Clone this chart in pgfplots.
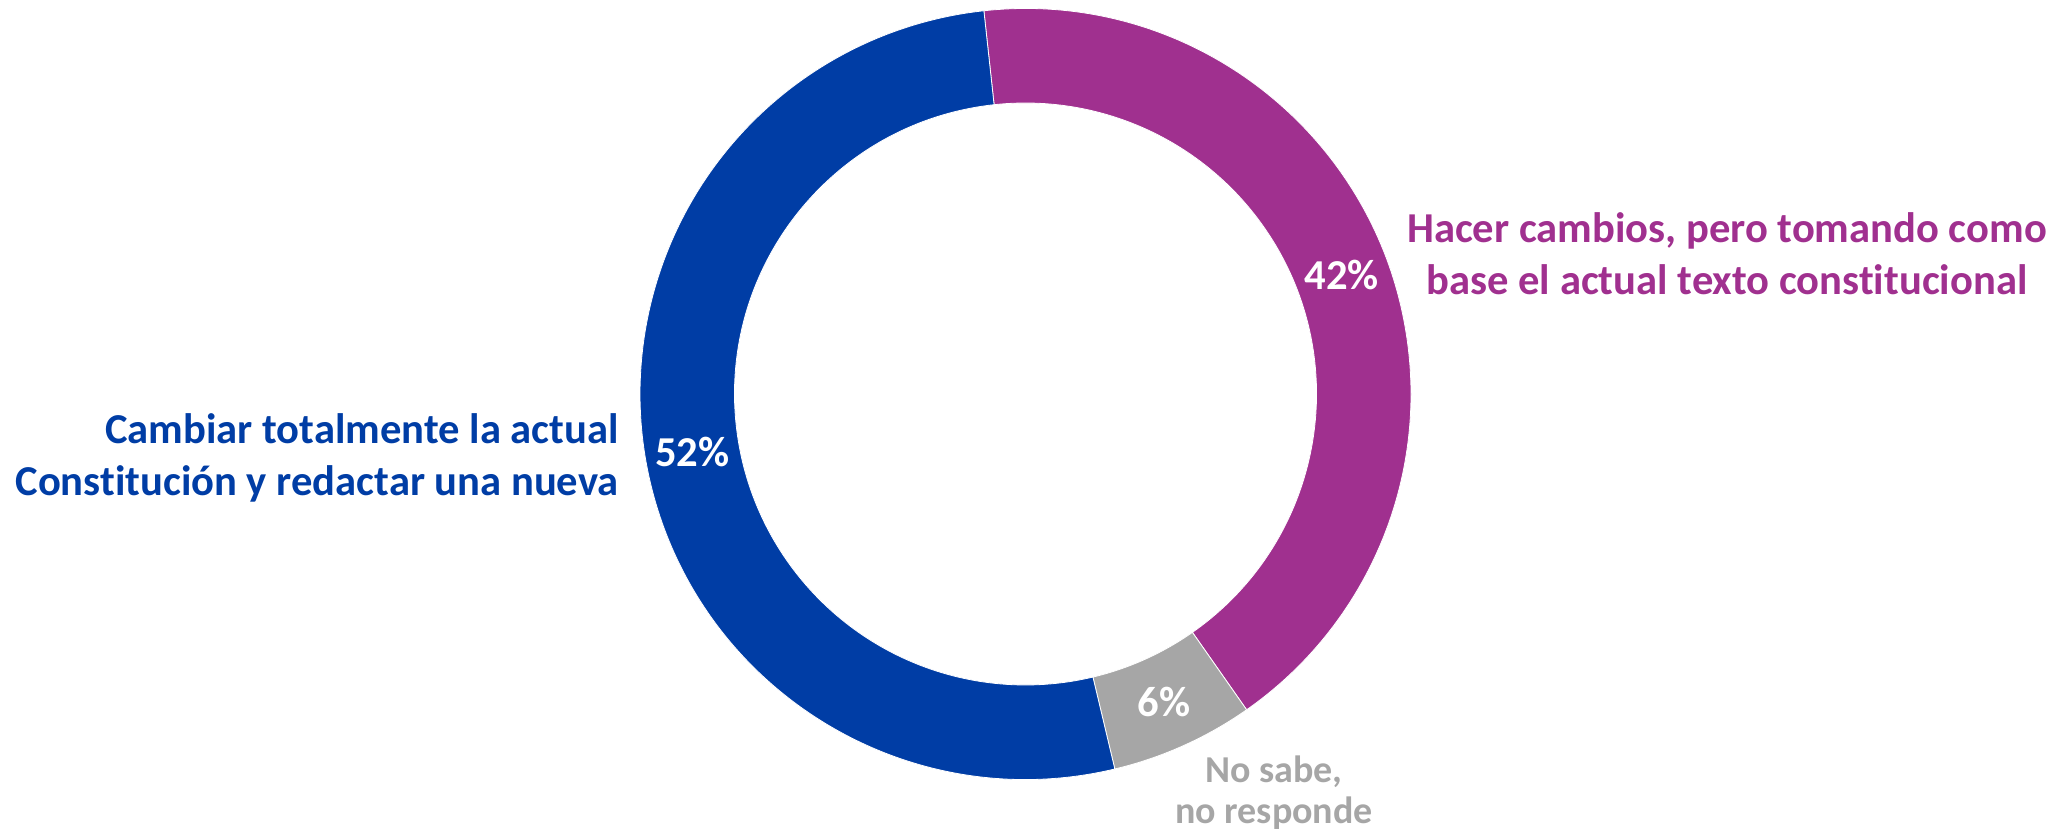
\documentclass[border=0pt]{standalone}
\usepackage{pgfplots}
\pgfplotsset{compat=1.18}
\usepackage{pgfplotstable}
\usepackage{fontspec}
\setmainfont[Ligatures=NoCommon]{Carlito}

\definecolor{azul}{HTML}{003DA5}
\definecolor{morado}{HTML}{A0308F}
\definecolor{gris}{HTML}{A6A6A6}

% porcentajes, en el orden del grafico (sentido horario desde arriba)
\pgfplotstableread{
value color
42 morado
6 gris
52 azul
}\donut

\newcommand\lblfont{\fontsize{21.3pt}{25.8pt}\selectfont\bfseries}
\newcommand\smallfont{\fontsize{19pt}{20.5pt}\selectfont\bfseries}
% centro y radios en unidades del eje (px)
\def\cx{1025.5}
\def\cy{441}
\def\Rout{385.5}
\def\Rin{291}

\begin{document}
\begin{tikzpicture}
\begin{axis}[
    x=0.5pt, y=0.5pt,
    xmin=0, xmax=2067, ymin=0, ymax=835,
    hide axis, clip=false]

  \pgfplotsextra{%
    \xdef\angA{96.2}%
    \pgfplotstablegetrowsof{\donut}%
    \pgfmathtruncatemacro\nrows{\pgfplotsretval-1}%
    \foreach \i in {0,...,\nrows}{%
      \pgfplotstablegetelem{\i}{value}\of\donut \let\val\pgfplotsretval
      \pgfplotstablegetelem{\i}{color}\of\donut \let\col\pgfplotsretval
      \pgfmathsetmacro\angB{\angA-3.6*\val}%
      \pgfmathsetmacro\angM{(\angA+\angB)/2}%
      \pgfmathsetmacro\xa{\cx+\Rout*cos(\angA)}%
      \pgfmathsetmacro\ya{\cy+\Rout*sin(\angA)}%
      \pgfmathsetmacro\xb{\cx+\Rin*cos(\angB)}%
      \pgfmathsetmacro\yb{\cy+\Rin*sin(\angB)}%
      \pgfmathsetmacro\xm{\cx+338*cos(\angM)}%
      \pgfmathsetmacro\ym{\cy+338*sin(\angM)}%
      \pgfmathsetmacro\rA{\Rout/2}%
      \pgfmathsetmacro\rB{\Rin/2}%
      \fill[fill=\col, draw=white, line width=0.4pt]
        (axis cs:\xa,\ya) arc[start angle=\angA, end angle=\angB, radius=\rA pt]
        -- (axis cs:\xb,\yb) arc[start angle=\angB, end angle=\angA, radius=\rB pt]
        -- cycle;
      \node[white, font=\lblfont, inner sep=0pt] at (axis cs:\xm,\ym) {\val\%};
      \xdef\angA{\angB}%
    }%
  }

  \node[morado, font=\lblfont, align=center, inner sep=0pt] at (axis cs:1727,581)
    {Hacer cambios, pero tomando como\\base el actual texto constitucional};
  \node[azul, font=\lblfont, align=right, anchor=east, inner sep=0pt] at (axis cs:619,377)
    {Cambiar totalmente la actual\\Constitución y redactar una nueva};
  \node[gris, font=\smallfont, align=center, inner sep=0pt] at (axis cs:1274,42)
    {No sabe,\\no responde};
\end{axis}
\pgfresetboundingbox
\path[use as bounding box] (0,0) rectangle (1033.5pt,417.5pt);
\end{tikzpicture}
\end{document}
